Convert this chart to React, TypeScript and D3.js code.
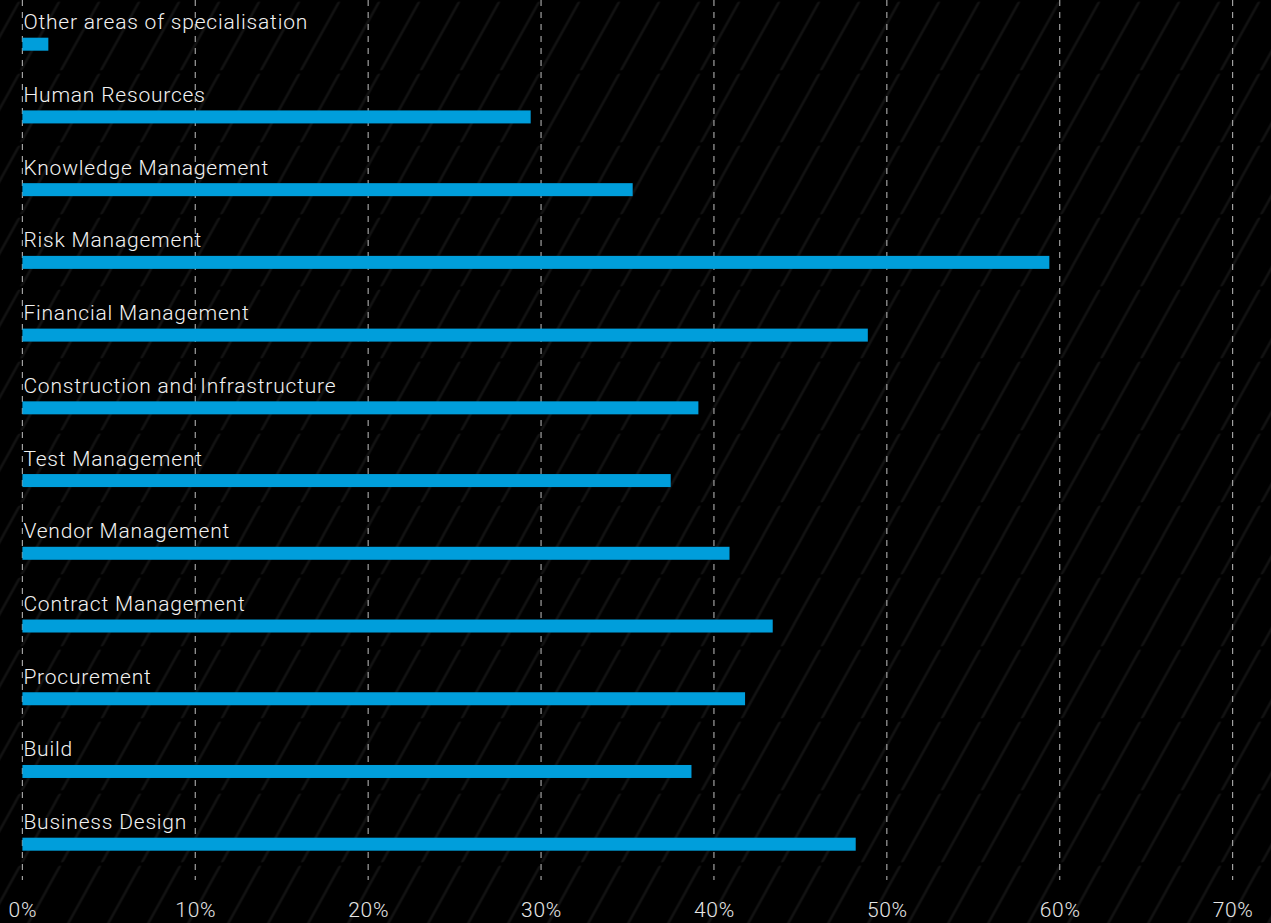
import React, { useEffect, useRef } from "react";
import * as d3 from "d3";

const categories: string[] = [
  "Other areas of specialisation",
  "Human Resources",
  "Knowledge Management",
  "Risk Management",
  "Financial Management",
  "Construction and Infrastructure",
  "Test Management",
  "Vendor Management",
  "Contract Management",
  "Procurement",
  "Build",
  "Business Design",
];

const values: number[] = [1.5, 29.4, 35.3, 59.4, 48.9, 39.1, 37.5, 40.9, 43.4, 41.8, 38.7, 48.2];

const tickValues: number[] = [0, 10, 20, 30, 40, 50, 60, 70];

const W = 1271;
const H = 923;
const FONT = "Roboto, 'Liberation Sans', Arial, sans-serif";

export default function App() {
  const ref = useRef<SVGSVGElement | null>(null);

  useEffect(() => {
    const svg = d3.select(ref.current);
    svg.selectAll("*").remove();

    const x = d3.scaleLinear().domain([0, 70]).range([22.4, 1232.6]);
    const y = d3.scalePoint<string>().domain(categories).range([44.2, 844.2]);
    const barH = 13;

    const defs = svg.append("defs");
    const pat = defs
      .append("pattern")
      .attr("id", "hatch")
      .attr("patternUnits", "userSpaceOnUse")
      .attr("width", 40)
      .attr("height", 72)
      .attr("patternTransform", "skewX(-29)");
    pat
      .append("line")
      .attr("x1", 20)
      .attr("x2", 20)
      .attr("y1", 3)
      .attr("y2", 69)
      .attr("stroke", "#121212")
      .attr("stroke-width", 3)
      .attr("stroke-linecap", "round");

    svg.append("rect").attr("width", W).attr("height", H).attr("fill", "#000");
    svg.append("rect").attr("width", W).attr("height", H).attr("fill", "url(#hatch)");

    // gridlines
    svg
      .append("g")
      .selectAll("line")
      .data(tickValues)
      .join("line")
      .attr("x1", (d) => x(d))
      .attr("x2", (d) => x(d))
      .attr("y1", 0)
      .attr("y2", 880)
      .attr("stroke", "#a0a0a0")
      .attr("stroke-width", 1.2)
      .attr("stroke-dasharray", "6,6");

    // bars
    svg
      .append("g")
      .selectAll("rect")
      .data(values)
      .join("rect")
      .attr("x", x(0))
      .attr("y", (_, i) => (y(categories[i]) as number) - barH / 2)
      .attr("width", (d) => x(d) - x(0))
      .attr("height", barH)
      .attr("fill", "#009edb");

    // labels
    svg
      .append("g")
      .selectAll("text")
      .data(categories)
      .join("text")
      .attr("x", x(0) + 1)
      .attr("y", (d) => (y(d) as number) - barH / 2 - 8.5)
      .attr("fill", "#f2f2f2")
      .attr("font-family", FONT)
      .attr("font-weight", 300)
      .attr("font-size", 21)
      .attr("letter-spacing", 0.8)
      .text((d) => d);

    // axis ticks
    const axis = d3
      .axisBottom(x)
      .tickValues(tickValues)
      .tickSize(0)
      .tickPadding(0)
      .tickFormat((d) => `${d}%`);
    const ag = svg.append("g").attr("transform", "translate(0,917)").call(axis);
    ag.select(".domain").remove();
    ag.selectAll("text")
      .attr("fill", "#e6e6e6")
      .attr("font-family", FONT)
      .attr("font-weight", 300)
      .attr("font-size", 21)
      .attr("letter-spacing", 0.7)
      .attr("dy", "0");
  }, []);

  return (
    <svg
      ref={ref}
      width={W}
      height={H}
      style={{ position: "absolute", left: 0, top: 0, display: "block" }}
    />
  );
}
